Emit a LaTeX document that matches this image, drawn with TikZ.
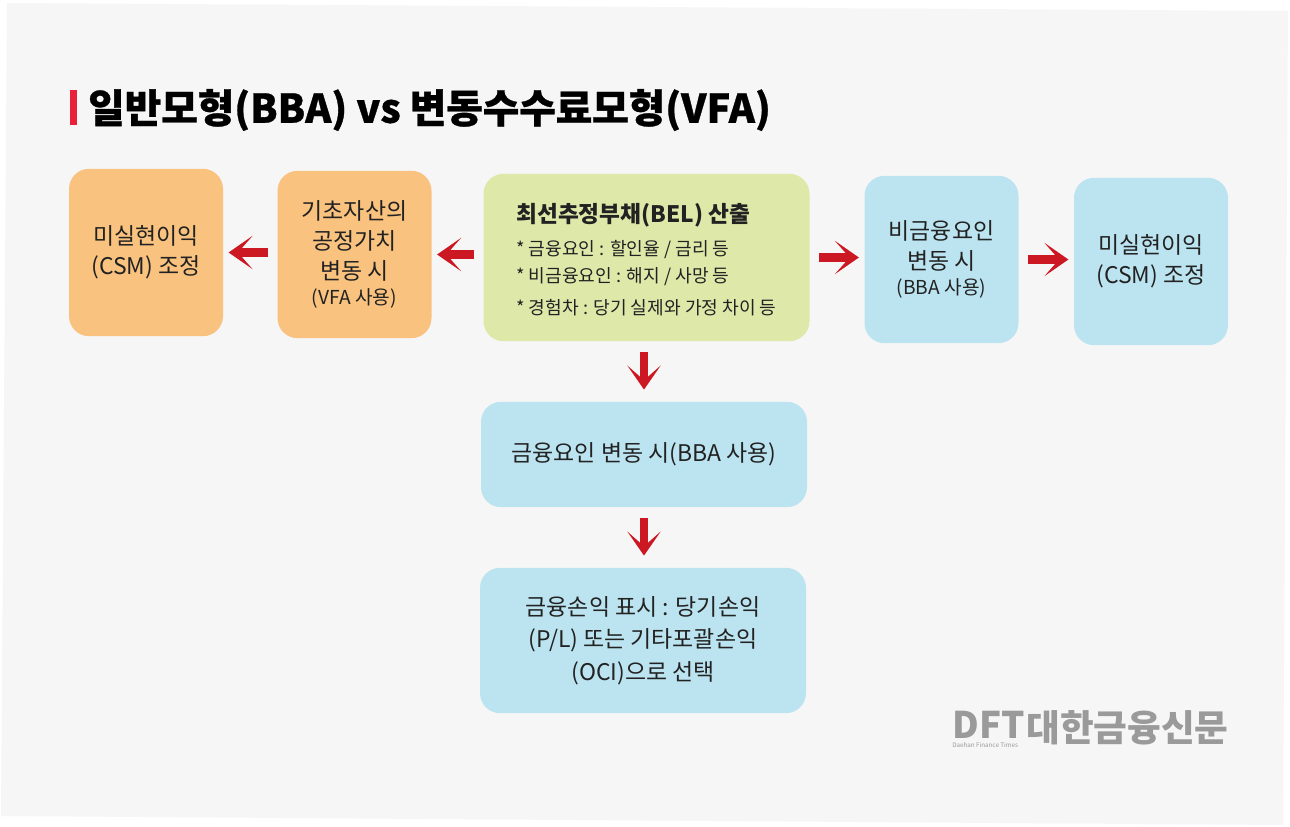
\documentclass[tikz,border=0pt]{standalone}
\usepackage{fontspec}
\setmainfont{Noto Sans CJK KR}
\usepackage{xcolor}
\definecolor{cPanel}{HTML}{F6F6F6}
\definecolor{cOrange}{HTML}{F9C27F}
\definecolor{cBlue}{HTML}{BCE4F0}
\definecolor{cGreen}{HTML}{DDE8A9}
\definecolor{cRed}{HTML}{CC1822}
\definecolor{cBar}{HTML}{E8203A}
\definecolor{cInk}{HTML}{222222}
\definecolor{cMark}{HTML}{9A9A9A}
\usetikzlibrary{arrows.meta}
\newcommand{\subfont}{\fontsize{14.4}{15}\selectfont}
\newcommand{\belfont}{\fontsize{13.6}{20}\selectfont}
\tikzset{
  node-box/.style={rounded corners=15pt,align=center,text=cInk,inner sep=0pt,
    font=\fontsize{17.2}{22.5}\selectfont},
  node-side/.style={node-box,minimum width=115.5pt,minimum height=125.5pt},
  node-wide/.style={node-box,minimum width=244.5pt},
  node-orange/.style={fill=cOrange},
  node-blue/.style={fill=cBlue},
  node-green/.style={fill=cGreen},
  arrow-red/.style={-{Stealth[length=18pt,width=25pt,inset=11pt]},
    line width=6.5pt,draw=cRed},
  logo-text/.style={anchor=west,inner sep=0pt,text=cMark},
}

\begin{document}
\begin{tikzpicture}[x=0.75pt,y=-0.75pt]
  \useasboundingbox (0,0) rectangle (1290,827);
  \fill[white] (0,0) rectangle (1290,827);
  \fill[cPanel] (7,3) -- (1288,11) -- (1283,825) -- (1,816) -- cycle;
  % title
  \fill[cBar] (70,90) rectangle (77,125);
  \node[anchor=west,inner sep=0pt,text=black,font=\fontsize{29.75}{32}\selectfont\bfseries\addfontfeature{FakeBold=0.8}] (title) at (88,110)
    {일반모형(BBA) vs 변동수수료모형(VFA)};
  % boxes
  \node[node-side,node-orange] (csmA) at (146,252.5) {미실현이익\\(CSM) 조정};
  \node[node-side,node-orange] (asset) at (354.5,254.5) {기초자산의\\공정가치\\변동 시\\[-4pt]{\subfont(VFA 사용)}};
  \node[node-wide,node-green,minimum height=125.5pt,align=left] (bel) at (646.5,257.5)
    {\rule{0pt}{17.5pt}{\fontsize{17}{20}\selectfont\bfseries 최선추정부채(BEL) 산출}\\[2.75pt]
     {\belfont * 금융요인 : 할인율 / 금리 등}\\[-2.25pt]
     {\belfont * 비금융요인 : 해지 / 사망 등}\\[1.5pt]
     {\belfont * 경험차 : 당기 실제와 가정 차이 등}};
  \node[node-side,node-blue] (nonfin) at (941.5,259.5) {비금융요인\\변동 시\\[-4pt]{\subfont(BBA 사용)}};
  \node[node-side,node-blue] (csmB) at (1151,261.5) {미실현이익\\(CSM) 조정};
  \node[node-wide,node-blue,minimum height=79pt] (fin) at (644,454.5) {금융요인 변동 시(BBA 사용)};
  \node[node-wide,node-blue,minimum height=109pt] (pl) at (643,640.5)
    {금융손익 표시 : 당기손익\\[2pt](P/L) 또는 기타포괄손익\\[2pt](OCI)으로 선택};
  % arrows
  \draw[arrow-red,shorten <=7pt,shorten >=4pt] (bel.west |- asset.east) -- (asset.east);
  \draw[arrow-red,shorten <=7pt,shorten >=4pt] (asset.west |- csmA.east) -- (csmA.east);
  \draw[arrow-red,shorten <=7pt,shorten >=4pt] (bel.east) -- (bel.east -| nonfin.west);
  \draw[arrow-red,shorten <=7pt,shorten >=4pt] (nonfin.east) -- (nonfin.east -| csmB.west);
  \draw[arrow-red,shorten <=8pt,shorten >=9pt] (bel.south -| fin.north) -- (fin.north);
  \draw[arrow-red,shorten <=8pt,shorten >=9pt] (fin.south) -- (fin.south |- pl.north);
  % logo
  \node[logo-text,font=\fontsize{27.5}{29}\selectfont\bfseries] (logoA) at (952,725) {DFT};
  \node[logo-text,font=\fontsize{27.5}{29}\selectfont\bfseries] (logoB) at (1026,728) {대한금융신문};
  \node[logo-text,font=\fontsize{4.7}{5}\selectfont] (logoC) at (952,745) {Daehan Finance Times};
\end{tikzpicture}
\end{document}
